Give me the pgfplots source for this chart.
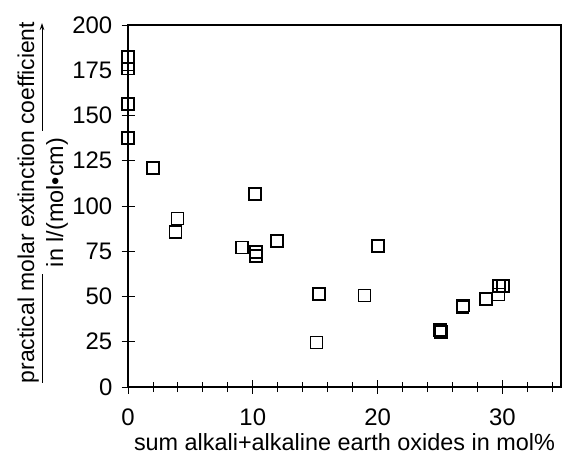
\documentclass[border=0pt]{standalone}
\usepackage{pgfplots}
\pgfplotsset{compat=1.18}
\usepackage{fontspec}
\setmainfont{Liberation Sans}
\usetikzlibrary{arrows.meta}
\begin{document}
\begin{tikzpicture}
\useasboundingbox (0,0) rectangle (562bp,455bp);
\begin{axis}[
  at={(128bp,68bp)}, anchor=south west,
  scale only axis, width=433bp, height=362bp,
  xmin=0, xmax=34.7, ymin=0, ymax=200,
  xtick={0,10,20,30}, minor xtick={2,4,6,8,12,14,16,18,22,24,26,28,32,34},
  ytick={0,25,50,75,100,125,150,175,200},
  tick align=center,
  xtick pos=bottom, ytick pos=left,
  major tick length=13bp, minor tick length=10bp,
  every tick/.style={black, line width=0.9bp},
  axis line style={line width=1.6bp},
  /pgf/number format/assume math mode=true,
  tick label style={font=\fontsize{24}{28}\selectfont},
  yticklabel style={anchor=east, inner sep=0pt, xshift=-9bp},
  xticklabel style={anchor=base, inner sep=0pt, yshift=-32bp},
  xlabel={sum alkali+alkaline earth oxides in mol\%},
  xlabel style={font=\fontsize{23.5}{27}\selectfont, at={(axis description cs:0.5,0)}, anchor=base, inner sep=0pt, yshift=-63.5bp},
  clip=false,
]
\addplot[only marks, mark=square, mark size=6bp, mark options={line width=1.7bp, black, fill=none}] coordinates {
(0,182.2) (0,175.9) (0,156.4) (0,137.4)
(2,120.8)
(3.97,93.1) (3.8,85.7)
(9.13,77.1) (10.2,106.6) (10.26,74.7) (10.26,72.3) (11.96,80.6)
(15.3,51.3) (15.1,24.6) (18.96,50.5) (20.06,77.8)
(25.0,31.3) (25.1,30.2) (26.8,44.2) (26.85,45.0)
(28.7,48.7) (29.7,51.1) (29.75,55.9) (30.05,55.9)
};
\end{axis}
\node[rotate=90, anchor=base, inner sep=0pt, font=\fontsize{23}{27}\selectfont] at (34bp,252.5bp) {practical molar extinction coefficient};
\node[rotate=90, anchor=base, inner sep=0pt, font=\fontsize{23.5}{27}\selectfont] at (63bp,252.5bp) {in l/(mol•cm)};
\draw[line width=0.9bp] (42bp,72bp) -- (42bp,181bp);
\draw[line width=0.9bp, -{Stealth[length=7bp,width=4.5bp]}] (42bp,324bp) -- (42bp,432bp);
\end{tikzpicture}
\end{document}
